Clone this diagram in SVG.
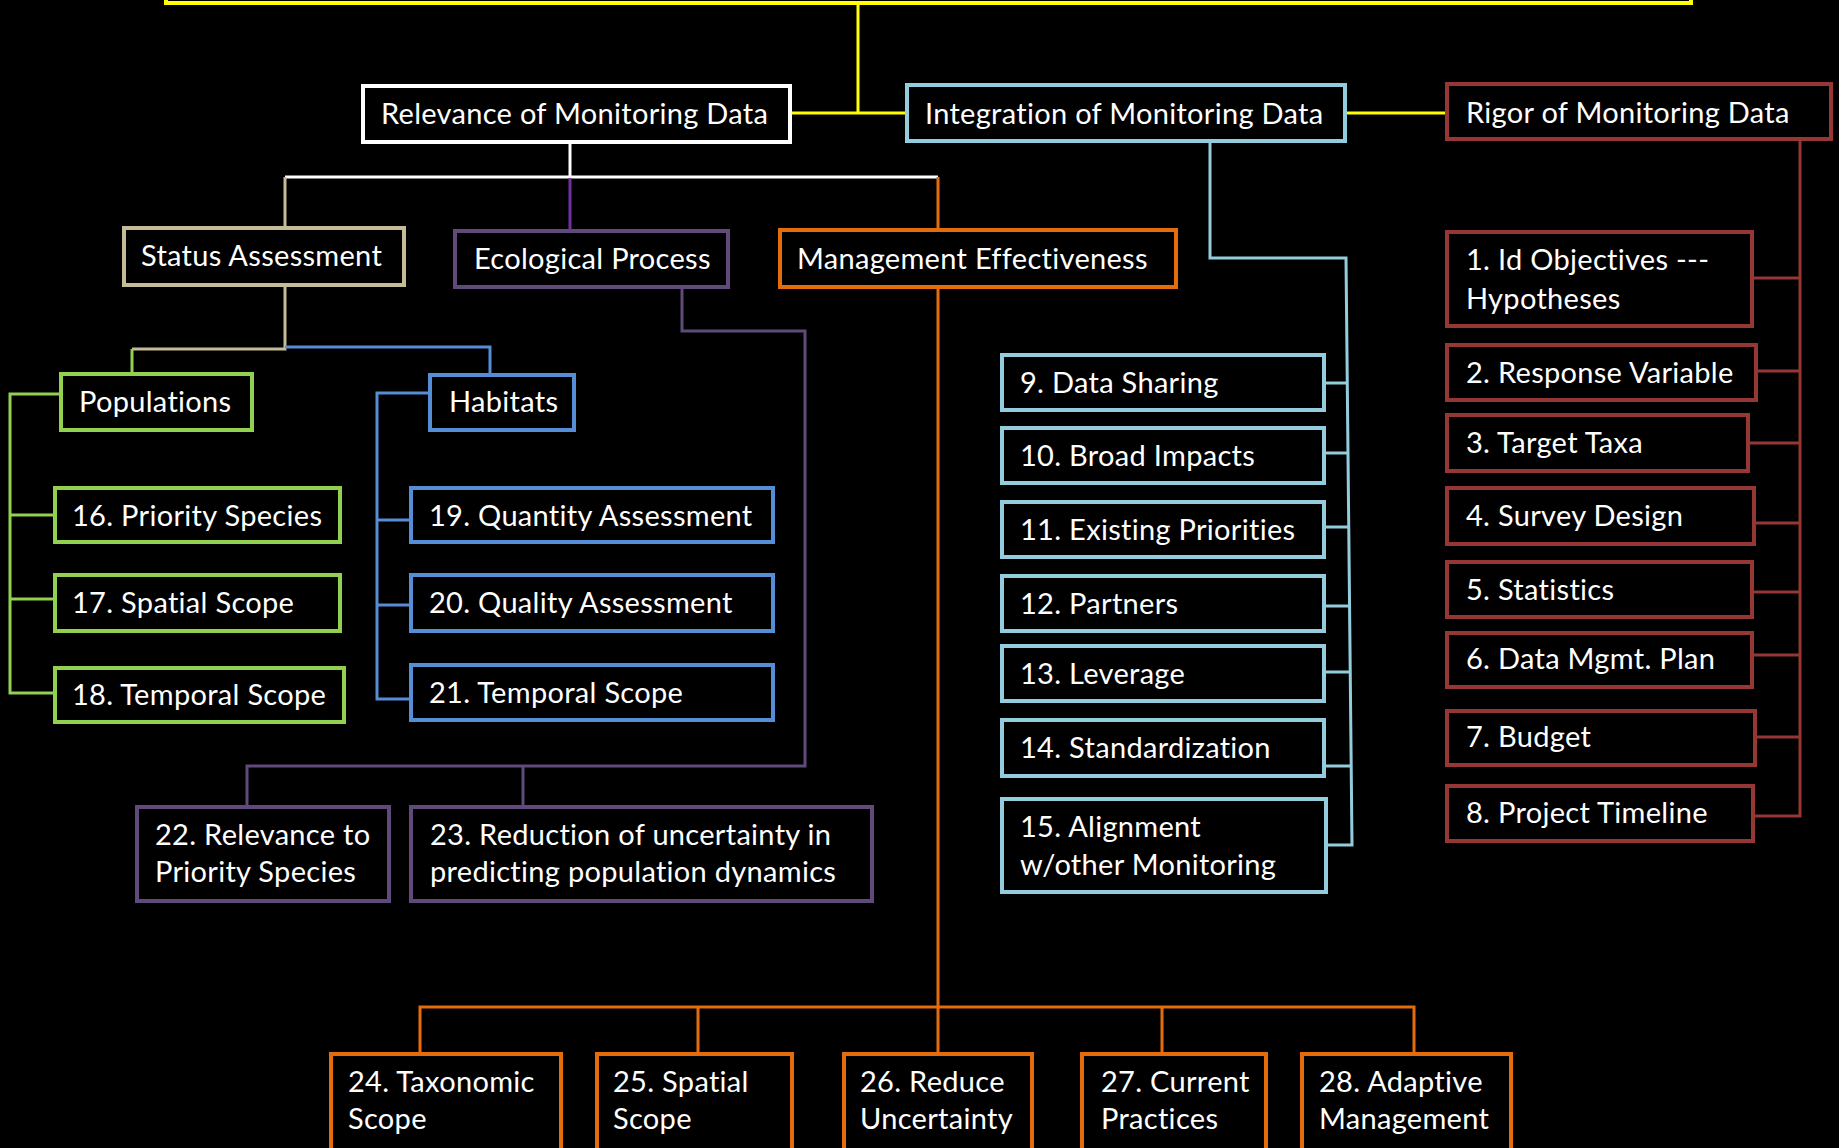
<svg xmlns="http://www.w3.org/2000/svg" width="1839" height="1148" viewBox="0 0 1839 1148">
<style>
  .bg { fill: #000000; }
  .box { fill: #000000; stroke-width: 4; }
  .ln { fill: none; stroke-width: 3; }
  text { font-family: Lato, "Open Sans", "Liberation Sans", sans-serif; font-size: 29px; letter-spacing: 0.3px; fill: #FFFFFF; }
  .yel { stroke: #FFFF00; }
  .wht { stroke: #FFFFFF; }
  .aqua { stroke: #93CDDD; }
  .red { stroke: #953735; }
  .tan { stroke: #C4BC96; }
  .pur { stroke: #604A7B; }
  .vio { stroke: #7030A0; }
  .org { stroke: #E46C0A; }
  .grn { stroke: #92D050; }
  .blu { stroke: #558ED5; }
</style>
<rect class="bg" x="0" y="0" width="1839" height="1148"/>

<g id="connectors">
  <path class="ln yel" d="M858 4 V113"/>
  <path class="ln yel" d="M792 113 H905" stroke-width="4"/>
  <path class="ln yel" d="M1347 113 H1445" stroke-width="4"/>
  <path class="ln wht" d="M570 143 V178"/>
  <path class="ln wht" d="M285 177 H938"/>
  <path class="ln vio" d="M570 178 V229"/>
  <path class="ln tan" d="M285 177 V226"/>
  <path class="ln org" d="M938 177 V228"/>
  <path class="ln tan" d="M285 286 V349 H132"/>
  <path class="ln grn" d="M132 349 V372"/>
  <path class="ln blu" d="M285 347 H490 V373"/>
  <path class="ln grn" d="M59 394 H10 V693 H53 M10 515 H53 M10 599 H53"/>
  <path class="ln blu" d="M428 393 H377 V699 H409 M377 520 H409 M377 605 H409"/>
  <path class="ln pur" d="M682 289 V331 H805 V766 H247 V805 M523 766 V805"/>
  <path class="ln org" d="M938 289 V1007"/>
  <path class="ln org" d="M420 1052 V1007 H1414 V1052 M698 1007 V1052 M938 1007 V1052 M1162 1007 V1052"/>
  <path class="ln aqua" d="M1210 143 V258 H1346 L1352 845 H1328"/>
  <path class="ln aqua" d="M1326 383 H1347 M1326 453 H1347 M1326 527 H1348 M1326 606 H1349 M1326 672 H1350 M1326 766 H1351"/>
  <path class="ln red" d="M1800 141 V816 H1754"/>
  <path class="ln red" d="M1754 278 H1800 M1758 371 H1800 M1750 443 H1800 M1756 523 H1800 M1754 592 H1800 M1754 655 H1800 M1756 737 H1800"/>
</g>

<g id="top">
  <rect class="box yel" x="166" y="-30" width="1525" height="33"/>
</g>

<g id="relevance">
  <rect class="box wht" x="363" y="86" width="427" height="56"/>
  <text x="381" y="124">Relevance of Monitoring Data</text>
</g>
<g id="integration">
  <rect class="box aqua" x="907" y="85" width="438" height="56"/>
  <text x="925" y="124">Integration of Monitoring Data</text>
</g>
<g id="rigor">
  <rect class="box red" x="1447" y="84" width="384" height="55"/>
  <text x="1466" y="123">Rigor of Monitoring Data</text>
</g>

<g id="status">
  <rect class="box tan" x="124" y="228" width="280" height="57"/>
  <text x="141" y="266">Status Assessment</text>
</g>
<g id="ecological">
  <rect class="box pur" x="455" y="231" width="273" height="56"/>
  <text x="474" y="269">Ecological Process</text>
</g>
<g id="management">
  <rect class="box org" x="780" y="230" width="396" height="57"/>
  <text x="797" y="269">Management Effectiveness</text>
</g>

<g id="populations">
  <rect class="box grn" x="61" y="374" width="191" height="56"/>
  <text x="79" y="412">Populations</text>
</g>
<g id="habitats">
  <rect class="box blu" x="430" y="375" width="144" height="55"/>
  <text x="449" y="412">Habitats</text>
</g>

<g id="n16">
  <rect class="box grn" x="55" y="488" width="285" height="54"/>
  <text x="72" y="526">16. Priority Species</text>
</g>
<g id="n17">
  <rect class="box grn" x="55" y="575" width="285" height="56"/>
  <text x="72" y="613">17. Spatial Scope</text>
</g>
<g id="n18">
  <rect class="box grn" x="55" y="668" width="289" height="54"/>
  <text x="72" y="705">18. Temporal Scope</text>
</g>

<g id="n19">
  <rect class="box blu" x="411" y="488" width="362" height="54"/>
  <text x="429" y="526">19. Quantity Assessment</text>
</g>
<g id="n20">
  <rect class="box blu" x="411" y="575" width="362" height="56"/>
  <text x="429" y="613">20. Quality Assessment</text>
</g>
<g id="n21">
  <rect class="box blu" x="411" y="665" width="362" height="55"/>
  <text x="429" y="703">21. Temporal Scope</text>
</g>

<g id="n22">
  <rect class="box pur" x="137" y="807" width="252" height="94"/>
  <text x="155" y="845">22. Relevance to</text>
  <text x="155" y="882">Priority Species</text>
</g>
<g id="n23">
  <rect class="box pur" x="411" y="807" width="461" height="94"/>
  <text x="430" y="845">23. Reduction of uncertainty in</text>
  <text x="430" y="882">predicting population dynamics</text>
</g>

<g id="n9">
  <rect class="box aqua" x="1002" y="355" width="322" height="55"/>
  <text x="1020" y="393">9. Data Sharing</text>
</g>
<g id="n10">
  <rect class="box aqua" x="1002" y="428" width="322" height="55"/>
  <text x="1020" y="466">10. Broad Impacts</text>
</g>
<g id="n11">
  <rect class="box aqua" x="1002" y="502" width="322" height="55"/>
  <text x="1020" y="540">11. Existing Priorities</text>
</g>
<g id="n12">
  <rect class="box aqua" x="1002" y="576" width="322" height="55"/>
  <text x="1020" y="614">12. Partners</text>
</g>
<g id="n13">
  <rect class="box aqua" x="1002" y="646" width="322" height="55"/>
  <text x="1020" y="684">13. Leverage</text>
</g>
<g id="n14">
  <rect class="box aqua" x="1002" y="720" width="322" height="56"/>
  <text x="1020" y="758">14. Standardization</text>
</g>
<g id="n15">
  <rect class="box aqua" x="1002" y="799" width="324" height="93"/>
  <text x="1020" y="837">15. Alignment</text>
  <text x="1020" y="875">w/other Monitoring</text>
</g>

<g id="n1">
  <rect class="box red" x="1447" y="232" width="305" height="94"/>
  <text x="1466" y="270">1. Id Objectives ---</text>
  <text x="1466" y="309">Hypotheses</text>
</g>
<g id="n2">
  <rect class="box red" x="1447" y="345" width="309" height="55"/>
  <text x="1466" y="383">2. Response Variable</text>
</g>
<g id="n3">
  <rect class="box red" x="1447" y="415" width="301" height="56"/>
  <text x="1466" y="453">3. Target Taxa</text>
</g>
<g id="n4">
  <rect class="box red" x="1447" y="488" width="307" height="56"/>
  <text x="1466" y="526">4. Survey Design</text>
</g>
<g id="n5">
  <rect class="box red" x="1447" y="562" width="305" height="55"/>
  <text x="1466" y="600">5. Statistics</text>
</g>
<g id="n6">
  <rect class="box red" x="1447" y="633" width="305" height="54"/>
  <text x="1466" y="669">6. Data Mgmt. Plan</text>
</g>
<g id="n7">
  <rect class="box red" x="1447" y="711" width="308" height="54"/>
  <text x="1466" y="747">7. Budget</text>
</g>
<g id="n8">
  <rect class="box red" x="1447" y="786" width="306" height="55"/>
  <text x="1466" y="823">8. Project Timeline</text>
</g>

<g id="n24">
  <rect class="box org" x="331" y="1054" width="230" height="110"/>
  <text x="348" y="1092">24. Taxonomic</text>
  <text x="348" y="1129">Scope</text>
</g>
<g id="n25">
  <rect class="box org" x="597" y="1054" width="195" height="110"/>
  <text x="613" y="1092">25. Spatial</text>
  <text x="613" y="1129">Scope</text>
</g>
<g id="n26">
  <rect class="box org" x="844" y="1054" width="188" height="110"/>
  <text x="860" y="1092">26. Reduce</text>
  <text x="860" y="1129">Uncertainty</text>
</g>
<g id="n27">
  <rect class="box org" x="1082" y="1054" width="184" height="110"/>
  <text x="1101" y="1092">27. Current</text>
  <text x="1101" y="1129">Practices</text>
</g>
<g id="n28">
  <rect class="box org" x="1302" y="1054" width="209" height="110"/>
  <text x="1319" y="1092">28. Adaptive</text>
  <text x="1319" y="1129">Management</text>
</g>
</svg>
